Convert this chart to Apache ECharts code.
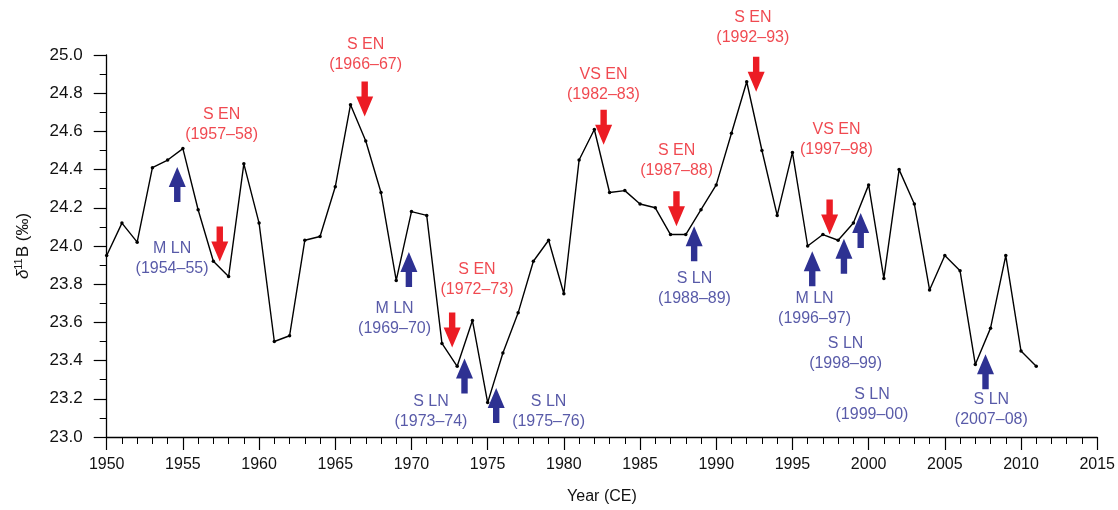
<!DOCTYPE html>
<html>
<head>
<meta charset="utf-8">
<script src="https://cdn.jsdelivr.net/npm/echarts@6/dist/echarts.min.js"></script>
<style>
html,body{margin:0;padding:0;background:#fff;}
#chart{width:1118px;height:510px;}
</style>
</head>
<body>
<div id="chart"></div>
<script>
// ---- data ----
const years = [1950,1951,1952,1953,1954,1955,1956,1957,1958,1959,1960,1961,1962,1963,1964,1965,1966,1967,1968,1969,1970,1971,1972,1973,1974,1975,1976,1977,1978,1979,1980,1981,1982,1983,1984,1985,1986,1987,1988,1989,1990,1991,1992,1993,1994,1995,1996,1997,1998,1999,2000,2001,2002,2003,2004,2005,2006,2007,2008,2009,2010,2011];
const d11B = [23.95,24.12,24.02,24.41,24.45,24.51,24.19,23.92,23.84,24.43,24.12,23.50,23.53,24.03,24.05,24.31,24.74,24.55,24.28,23.82,24.18,24.16,23.49,23.37,23.61,23.18,23.44,23.65,23.92,24.03,23.75,24.45,24.61,24.28,24.29,24.22,24.20,24.06,24.06,24.19,24.32,24.59,24.86,24.50,24.16,24.49,24.00,24.06,24.03,24.12,24.32,23.83,24.40,24.22,23.77,23.95,23.87,23.38,23.57,23.95,23.45,23.37];

// El Niño annotations: [year, value, text] (text block centres)
const enLabels = [
  [1957.54, 24.634, 'S EN\n(1957–58)'],
  [1966.99, 25.000, 'S EN\n(1966–67)'],
  [1974.30, 23.825, 'S EN\n(1972–73)'],
  [1982.60, 24.843, 'VS EN\n(1982–83)'],
  [1987.40, 24.445, 'S EN\n(1987–88)'],
  [1992.40, 25.142, 'S EN\n(1992–93)'],
  [1997.89, 24.556, 'VS EN\n(1997–98)']
];
// La Niña annotations
const lnLabels = [
  [1954.29, 23.936, 'M LN\n(1954–55)'],
  [1968.89, 23.622, 'M LN\n(1969–70)'],
  [1971.28, 23.135, 'S LN\n(1973–74)'],
  [1979.00, 23.135, 'S LN\n(1975–76)'],
  [1988.57, 23.775, 'S LN\n(1988–89)'],
  [1996.45, 23.672, 'M LN\n(1996–97)'],
  [1998.49, 23.436, 'S LN\n(1998–99)'],
  [2000.22, 23.170, 'S LN\n(1999–00)'],
  [2008.05, 23.146, 'S LN\n(2007–08)']
];
// arrow tips [year, value]
const enArrows = [[1957.42,23.919],[1966.93,24.678],[1972.67,23.468],[1982.61,24.53],[1987.39,24.103],[1992.62,24.807],[1997.44,24.06]];
const lnArrows = [[1954.63,24.414],[1969.83,23.968],[1973.48,23.411],[1975.56,23.256],[1988.55,24.103],[1996.30,23.973],[1998.38,24.038],[1999.48,24.173],[2007.67,23.433]];

const xTicks = {min:1950, max:2015, step:5};
const yTicks = {min:23.0, max:25.0, step:0.2};

// ---- chart ----
const RED = '#ec1c24', BLUE = '#2e3192';
const FONT = '"Liberation Sans", Arial, Helvetica, sans-serif';
const chart = echarts.init(document.getElementById('chart'));

function arrowSeries(data, color, down) {
  return {
    type: 'custom',
    data: data,
    clip: false,
    silent: true,
    renderItem: function (params, api) {
      const p = api.coord([api.value(0), api.value(1)]);
      const s = down ? -1 : 1; // direction from tip toward tail
      const x = p[0], y = p[1];
      const hl = 20, hw = 8.5, sw = 3.2, L = 35;
      return {
        type: 'polygon',
        shape: { points: [
          [x, y], [x - hw, y + s*hl], [x - sw, y + s*hl], [x - sw, y + s*L],
          [x + sw, y + s*L], [x + sw, y + s*hl], [x + hw, y + s*hl]
        ]},
        style: { fill: color }
      };
    }
  };
}
function labelSeries(data, color) {
  return {
    type: 'scatter',
    data: data,
    clip: false,
    silent: true,
    symbolSize: 0,
    label: {
      show: true, position: 'inside',
      formatter: p => p.value[2],
      color: color, fontSize: 16, lineHeight: 20, fontFamily: FONT, align: 'center'
    }
  };
}

chart.setOption({
  animation: false,
  backgroundColor: '#fff',
  textStyle: { fontFamily: FONT },
  grid: { left: 106.7, right: 19.4, top: 55, bottom: 67 },
  xAxis: {
    type: 'value', min: xTicks.min, max: xTicks.max, interval: xTicks.step,
    name: 'Year (CE)', nameLocation: 'middle', nameGap: 52,
    nameTextStyle: { fontSize: 16, color: '#111', fontFamily: FONT },
    axisLine: { lineStyle: { color: '#000', width: 1.3 } },
    axisTick: { length: 13, lineStyle: { color: '#000', width: 1.2 } },
    minorTick: { show: true, splitNumber: 5, length: 7, lineStyle: { color: '#000', width: 1 } },
    axisLabel: { fontSize: 16, color: '#111', margin: 20, fontFamily: FONT, formatter: v => String(v) },
    splitLine: { show: false }
  },
  yAxis: {
    type: 'value', min: yTicks.min, max: yTicks.max, interval: yTicks.step,
    name: '{d|δ}{sup|11}{b|B (‰)}', nameLocation: 'middle', nameGap: 74, nameRotate: 90,
    nameTextStyle: {
      rich: {
        d: { fontSize: 17, fontStyle: 'italic', color: '#111', fontFamily: FONT },
        sup: { fontSize: 11, color: '#111', verticalAlign: 'top', padding: [0,1,8,0], fontFamily: FONT },
        b: { fontSize: 17, color: '#111', fontFamily: FONT }
      }
    },
    axisLine: { show: true, lineStyle: { color: '#000', width: 1.3 } },
    axisTick: { show: true, length: 13, lineStyle: { color: '#000', width: 1.2 } },
    minorTick: { show: true, splitNumber: 2, length: 7, lineStyle: { color: '#000', width: 1 } },
    axisLabel: { fontSize: 17, color: '#111', margin: 24, formatter: v => v.toFixed(1), fontFamily: FONT },
    splitLine: { show: false }
  },
  series: [
    {
      type: 'line',
      data: years.map((y, i) => [y, d11B[i]]),
      symbol: 'circle', symbolSize: 3.5,
      itemStyle: { color: '#000' },
      lineStyle: { color: '#000', width: 1.4 },
      silent: true
    },
    arrowSeries(enArrows, RED, true),
    arrowSeries(lnArrows, BLUE, false),
    labelSeries(enLabels, RED),
    labelSeries(lnLabels, BLUE)
  ]
});
</script>
</body>
</html>
